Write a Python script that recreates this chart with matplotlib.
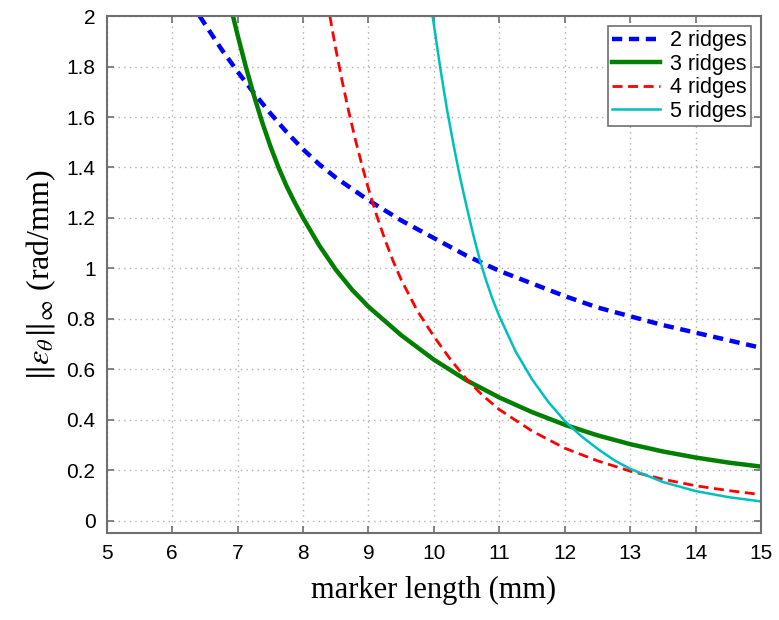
import matplotlib
matplotlib.use('Agg')
import matplotlib.pyplot as plt
from matplotlib.ticker import FuncFormatter

# values (marker length in mm, error in rad/mm)
x2 = [6.42, 6.75, 7.0, 7.25, 7.5, 7.75, 8.0, 8.25, 8.5, 9.0, 9.5, 10.0, 10.5,
      11.0, 11.5, 12.0, 12.5, 13.0, 13.5, 14.0, 14.5, 15.0]
y2 = [2.0, 1.87, 1.78, 1.695, 1.615, 1.54, 1.472, 1.412, 1.36, 1.27, 1.19,
      1.12, 1.05, 0.99, 0.94, 0.89, 0.845, 0.81, 0.775, 0.745, 0.715, 0.685]

x3 = [6.93, 7.0, 7.125, 7.25, 7.375, 7.5, 7.625, 7.75, 7.875, 8.0, 8.25, 8.5,
      8.75, 9.0, 9.5, 10.0, 10.5, 11.0, 11.5, 12.0, 12.5, 13.0, 13.5, 14.0,
      14.5, 15.0]
y3 = [2.0, 1.925, 1.80, 1.685, 1.58, 1.485, 1.40, 1.325, 1.26, 1.20, 1.09,
      0.995, 0.915, 0.848, 0.735, 0.638, 0.556, 0.488, 0.43, 0.38, 0.338,
      0.303, 0.274, 0.25, 0.23, 0.214]

x4 = [8.41, 8.5, 8.6, 8.7, 8.8, 8.9, 9.0, 9.125, 9.25, 9.375, 9.5, 9.75,
      10.0, 10.25, 10.5, 10.75, 11.0, 11.5, 12.0, 12.5, 13.0, 13.5, 14.0,
      14.5, 15.0]
y4 = [2.0, 1.87, 1.74, 1.62, 1.51, 1.41, 1.315, 1.21, 1.115, 1.03, 0.955,
      0.83, 0.73, 0.64, 0.56, 0.495, 0.44, 0.355, 0.287, 0.237, 0.196, 0.164,
      0.138, 0.119, 0.103]

x5 = [9.98, 10.1, 10.2, 10.3, 10.4, 10.5, 10.6, 10.7, 10.8, 10.9, 11.0,
      11.25, 11.5, 11.75, 12.0, 12.25, 12.5, 12.75, 13.0, 13.5, 14.0, 14.5,
      15.0]
y5 = [2.0, 1.79, 1.63, 1.49, 1.36, 1.245, 1.135, 1.035, 0.95, 0.875, 0.81,
      0.67, 0.56, 0.47, 0.395, 0.335, 0.285, 0.24, 0.205, 0.153, 0.117,
      0.093, 0.076]

labels = ['2 ridges', '3 ridges', '4 ridges', '5 ridges']

plt.rcParams['mathtext.fontset'] = 'stix'

fig = plt.figure(figsize=(7.79, 6.2), dpi=100)
ax = fig.add_axes([0.137, 0.140, 0.840, 0.834])

ax.plot(x2, y2, color='#0000ff', lw=3.2, dashes=(2.3, 1.5), label=labels[0])
ax.plot(x3, y3, color='#007f00', lw=3.2, label=labels[1])
ax.plot(x4, y4, color='#ff0000', lw=2.0, dashes=(3.6, 2.0), label=labels[2])
ax.plot(x5, y5, color='#00bfbf', lw=1.8, label=labels[3])

ax.set_xlim(5, 15)
ax.set_ylim(-0.05, 2)
ax.set_xticks(range(5, 16))
ax.set_yticks([i * 0.2 for i in range(11)])
ax.yaxis.set_major_formatter(FuncFormatter(lambda v, p: '%g' % round(v, 1)))

ax.grid(True, linestyle=(0, (1, 3)), color='#b0b0b0', linewidth=1.0)
ax.tick_params(direction='in', top=True, right=True, length=5, width=1.2,
               color='#707070', labelsize=15, pad=8)
for lab in ax.get_xticklabels() + ax.get_yticklabels():
    lab.set_fontfamily('Liberation Sans')
for s in ax.spines.values():
    s.set_color('#707070')
    s.set_linewidth(1.5)

ax.set_xlabel('marker length (mm)', fontfamily='Liberation Serif',
              fontsize=22, labelpad=9)
ax.set_ylabel(r'$\Vert\epsilon_\theta\Vert_\infty$ (rad/mm)',
              fontfamily='Liberation Serif', fontsize=23, labelpad=6)

leg = ax.legend(loc='upper right', fancybox=False, framealpha=1,
                edgecolor='#707070', prop={'family': 'Liberation Sans', 'size': 15.5},
                handlelength=2.2, labelspacing=0.12, borderpad=0.2,
                handletextpad=0.5, borderaxespad=0.45)
leg.get_frame().set_linewidth(1.2)

fig.savefig('out.png', dpi=100)
